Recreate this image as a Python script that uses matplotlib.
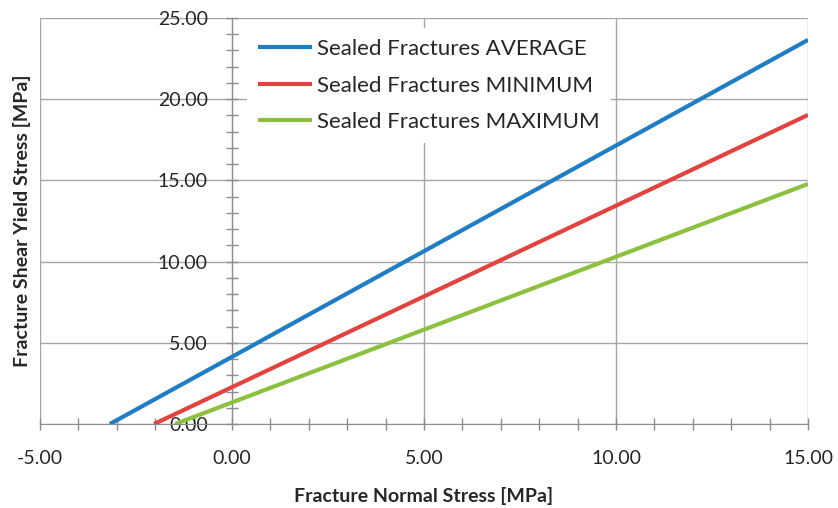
import matplotlib
matplotlib.use("Agg")
import matplotlib.pyplot as plt
from matplotlib.ticker import MultipleLocator, FormatStrFormatter

plt.rcParams['font.family'] = ['Lato', 'DejaVu Sans']

# failure envelopes: normal stress vs shear yield stress (MPa)
avg_x = [-3.18, 15.0]
avg_y = [0.0, 23.65]
min_x = [-2.03, 15.0]
min_y = [0.0, 19.03]
max_x = [-1.48, 15.0]
max_y = [0.0, 14.78]

labels = ['Sealed Fractures AVERAGE', 'Sealed Fractures MINIMUM', 'Sealed Fractures MAXIMUM']
colors = ['#1f7dc4', '#e2433f', '#8cc03f']

fig = plt.figure(figsize=(8.38, 5.08), dpi=100)
ax = fig.add_axes([40/838, 1-424/508, 768/838, 406/508])

for xs, ys, lab, c in zip([avg_x, min_x, max_x], [avg_y, min_y, max_y], labels, colors):
    ax.plot(xs, ys, color=c, lw=3.0, label=lab, solid_capstyle='butt')

ax.set_xlim(-5, 15)
ax.set_ylim(0, 25)
ax.xaxis.set_major_locator(MultipleLocator(5))
ax.xaxis.set_minor_locator(MultipleLocator(1))
ax.yaxis.set_major_locator(MultipleLocator(5))
ax.yaxis.set_minor_locator(MultipleLocator(1))
ax.xaxis.set_major_formatter(FormatStrFormatter('%.2f'))
ax.yaxis.set_major_formatter(FormatStrFormatter('%.2f'))

ax.set_axisbelow(True)
ax.grid(which='major', color='#a6a6a6', lw=1.0)

for s in ['top', 'right']:
    ax.spines[s].set_visible(False)
ax.spines['left'].set_position(('data', 0))
ax.spines['left'].set_color('#8c8c8c')
ax.spines['bottom'].set_color('#8c8c8c')
ax.spines['left'].set_zorder(1)
ax.spines['bottom'].set_zorder(1)

ax.tick_params(which='both', direction='inout', color='#8c8c8c', width=1.0)
ax.tick_params(which='major', length=9, labelsize=14, labelcolor='#262626')
ax.tick_params(which='minor', length=8)
ax.tick_params(axis='x', which='major', pad=14)
ax.tick_params(axis='y', which='major', pad=13)

ax.set_xlabel('Fracture Normal Stress [MPa]', fontsize=14, fontweight='bold', color='#262626')
ax.set_ylabel('Fracture Shear Yield Stress [MPa]', fontsize=14, fontweight='bold', color='#262626')
ax.xaxis.set_label_coords(0.5, -0.155)
ax.yaxis.set_label_coords(-0.012, 0.5)

leg = ax.legend(loc='upper left', bbox_to_anchor=(0.2695, 0.975), borderaxespad=0,
                fontsize=16, frameon=True, facecolor='white', edgecolor='none',
                framealpha=1, fancybox=False, handlelength=2.43, handletextpad=0.22,
                labelspacing=0.74, borderpad=0.5)
for t in leg.get_texts():
    t.set_color('#262626')

fig.savefig('out.png', dpi=100)
